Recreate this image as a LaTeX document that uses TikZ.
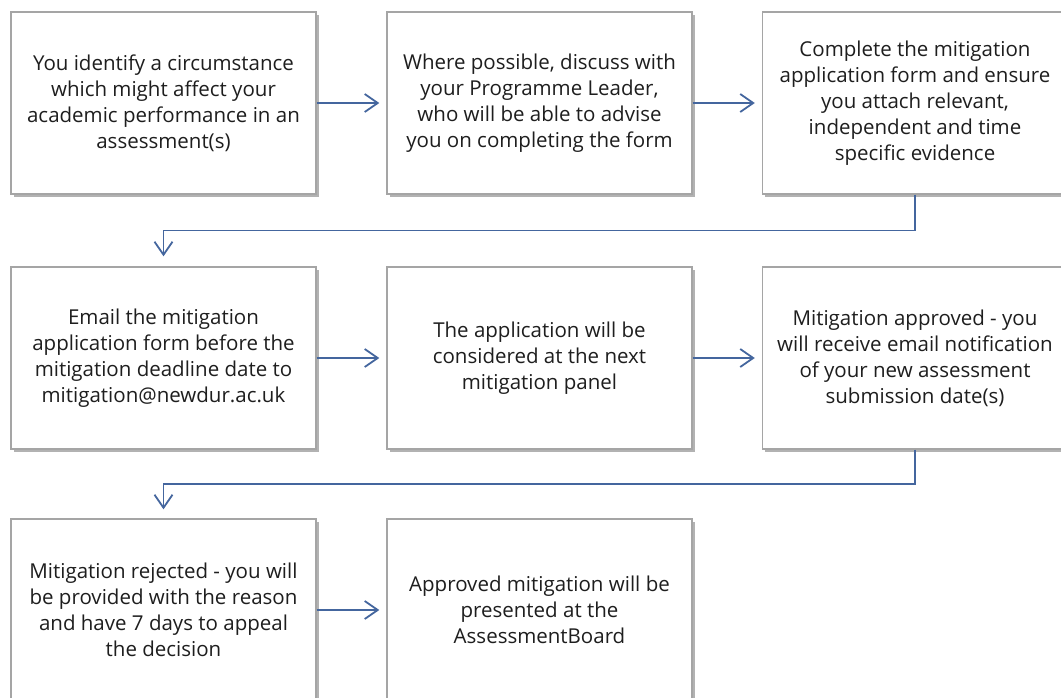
\documentclass[tikz,border=0pt]{standalone}
\usepackage{fontspec}
\setmainfont{Open Sans}
\usetikzlibrary{arrows.meta,shadows,calc}
\definecolor{arrowblue}{RGB}{68,102,158}
\definecolor{boxgray}{RGB}{165,165,165}
\definecolor{txtgray}{RGB}{30,30,30}
\begin{document}
\begin{tikzpicture}[x=1pt,y=-1pt,
  stepbox/.style={draw=boxgray, line width=1.4pt, fill=white,
    minimum width=305pt, minimum height=182pt, inner sep=0pt,
    align=center, text=txtgray,
    font=\fontsize{20.5}{26}\selectfont,
    drop shadow={shadow xshift=2.5pt, shadow yshift=-2.5pt, fill=black, opacity=0.3}},
  flow/.style={draw=arrowblue, line width=1.8pt,
    -{Straight Barb[length=13pt,width=18pt,line width=1.8pt]}}
]
\useasboundingbox (0,0) rectangle (1061,697);
\node[stepbox] (b1) at (163.5,103) {You identify a circumstance\\which might affect your\\academic performance in an\\assessment(s)};
\node[stepbox] (b2) at (539.5,103) {Where possible, discuss with\\your Programme Leader,\\who will be able to advise\\you on completing the form};
\node[stepbox] (b3) at (915,103) {Complete the mitigation\\application form and ensure\\you attach relevant,\\independent and time\\specific evidence};
\node[stepbox] (b4) at (163.5,358) {Email the mitigation\\application form before the\\mitigation deadline date to\\mitigation@newdur.ac.uk};
\node[stepbox] (b5) at (539.5,358) {The application will be\\considered at the next\\mitigation panel};
\node[stepbox] (b6) at (915,358) {Mitigation approved - you\\will receive email notification\\of your new assessment\\submission date(s)};
\node[stepbox] (b7) at (163.5,610) {Mitigation rejected - you will\\be provided with the reason\\and have 7 days to appeal\\the decision};
\node[stepbox] (b8) at (539.5,610) {Approved mitigation will be\\presented at the\\AssessmentBoard};

\draw[flow, shorten >=7pt] (b1.east) -- (b2.west);
\draw[flow, shorten >=7pt] (b2.east) -- (b3.west);
\draw[flow, shorten >=7pt] (b4.east) -- (b5.west);
\draw[flow, shorten >=7pt] (b5.east) -- (b6.west);
\draw[flow, shorten >=7pt] (b7.east) -- (b8.west);
\draw[flow, shorten >=10pt] (b3.south) |- ($(b3.south)!0.5!(b4.north)$) -| (b4.north);
\draw[flow, shorten >=9pt] (b6.south) |- ($(b6.south)!0.5!(b7.north)$) -| (b7.north);
\end{tikzpicture}
\end{document}
